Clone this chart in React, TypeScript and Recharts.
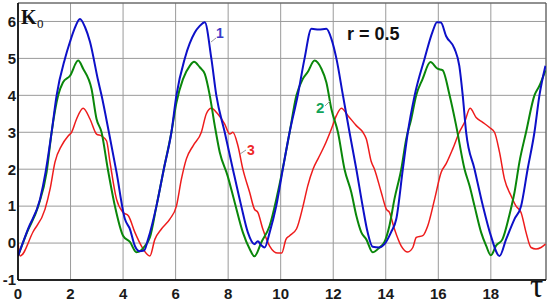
import React from "react"
import { LineChart, Line, XAxis, YAxis, CartesianGrid, ReferenceArea } from "recharts"

const X_TICKS = [0, 2, 4, 6, 8, 10, 12, 14, 16, 18]
const Y_TICKS = [-1, 0, 1, 2, 3, 4, 5, 6]

// curve 1 (blue)
const blueX = [0, 0.38, 0.84, 1.05, 1.28, 1.47, 1.79, 1.98, 2.15, 2.36, 2.55, 2.74, 3.05, 3.18, 3.46, 3.75, 4.07, 4.26, 4.45, 4.62, 4.8, 4.95, 5.27, 5.55, 5.84, 6.03, 6.35, 6.73, 6.92, 7.11, 7.36, 7.55, 7.87, 8.18, 8.5, 8.75, 9.0, 9.13, 9.25, 9.39, 9.58, 9.83, 10.08, 10.34, 10.65, 10.91, 11.17, 11.45, 11.74, 11.93, 12.12, 12.37, 12.62, 12.88, 13.12, 13.31, 13.5, 13.75, 13.95, 14.2, 14.4, 14.65, 14.84, 15.1, 15.48, 15.78, 15.95, 16.1, 16.3, 16.62, 16.8, 16.93, 17.06, 17.38, 17.7, 18.0, 18.33, 18.58, 18.9, 19.15, 19.4, 19.66, 19.85, 20.08]
const blueY = [-0.35, 0.38, 1.19, 1.92, 3.0, 4.0, 5.0, 5.45, 5.8, 6.07, 5.85, 5.45, 4.4, 4.0, 3.0, 1.92, 0.65, 0.38, -0.08, -0.22, -0.2, 0.1, 1.0, 2.0, 3.0, 4.0, 5.0, 5.7, 5.88, 5.98, 5.0, 4.0, 3.0, 2.0, 1.0, 0.29, -0.03, 0.05, -0.05, -0.12, 0.29, 1.0, 2.0, 3.0, 4.0, 5.0, 5.8, 5.78, 5.8, 5.53, 5.0, 4.0, 3.0, 2.0, 1.0, 0.29, -0.1, -0.12, -0.03, 0.29, 0.65, 2.0, 3.0, 4.0, 5.0, 5.72, 5.98, 5.97, 5.6, 5.26, 4.8, 4.0, 3.0, 2.0, 1.0, 0.2, -0.35, 0.1, 0.65, 1.0, 2.0, 3.0, 4.0, 4.8]

// curve 2 (green)
const greenX = [0, 0.35, 0.77, 1.09, 1.28, 1.53, 1.71, 1.98, 2.29, 2.48, 2.8, 2.99, 3.18, 3.42, 3.69, 4.0, 4.26, 4.51, 4.83, 5.02, 5.27, 5.55, 5.84, 6.03, 6.28, 6.54, 6.7, 6.92, 7.11, 7.3, 7.49, 7.68, 7.98, 8.25, 8.56, 8.82, 9.0, 9.27, 9.58, 9.89, 10.15, 10.34, 10.6, 10.84, 11.03, 11.29, 11.55, 11.74, 11.93, 12.18, 12.43, 12.69, 12.88, 13.07, 13.26, 13.5, 13.76, 13.95, 14.14, 14.33, 14.59, 14.78, 14.97, 15.16, 15.4, 15.7, 15.97, 16.16, 16.43, 16.68, 17.0, 17.19, 17.38, 17.63, 17.82, 18.0, 18.2, 18.44, 18.7, 18.9, 19.09, 19.34, 19.66, 19.85, 20.08]
const greenY = [-0.35, 0.3, 1.0, 1.92, 3.0, 4.0, 4.35, 4.53, 4.94, 4.72, 4.17, 3.36, 3.0, 2.0, 1.0, 0.2, 0.03, -0.25, -0.08, 0.15, 1.0, 2.0, 3.0, 3.8, 4.44, 4.8, 4.91, 4.76, 4.58, 4.0, 3.18, 2.46, 1.82, 1.1, 0.29, -0.16, -0.36, 0.03, 0.47, 1.37, 2.28, 3.0, 4.0, 4.44, 4.63, 4.94, 4.72, 4.35, 3.63, 3.0, 2.0, 1.37, 0.74, 0.29, 0.1, -0.25, -0.12, 0.03, 0.47, 1.19, 2.0, 2.82, 3.36, 4.0, 4.44, 4.9, 4.72, 4.68, 4.0, 3.18, 2.0, 1.55, 1.0, 0.29, -0.07, -0.33, -0.07, 0.1, 0.74, 1.37, 2.2, 3.0, 4.0, 4.26, 4.68]

// curve 3 (red)
const redX = [0, 0.08, 0.57, 1.03, 1.22, 1.41, 1.66, 1.91, 2.04, 2.23, 2.48, 2.74, 2.99, 3.18, 3.37, 3.5, 3.75, 4.0, 4.2, 4.45, 4.7, 5.02, 5.21, 5.46, 5.78, 6.03, 6.22, 6.41, 6.67, 6.98, 7.17, 7.36, 7.6, 7.87, 8.06, 8.18, 8.37, 8.56, 8.82, 9.0, 9.13, 9.32, 9.58, 9.89, 10.04, 10.2, 10.34, 10.6, 10.85, 11.03, 11.23, 11.42, 11.67, 11.93, 12.12, 12.31, 12.56, 12.88, 13.13, 13.26, 13.45, 13.57, 13.83, 14.02, 14.14, 14.33, 14.59, 14.84, 15.03, 15.16, 15.41, 15.6, 15.86, 16.11, 16.3, 16.55, 16.8, 17.0, 17.21, 17.44, 17.69, 17.95, 18.14, 18.33, 18.52, 18.77, 18.96, 19.15, 19.34, 19.53, 19.72, 19.91, 20.08]
const redY = [0, -0.35, 0.3, 0.92, 1.46, 2.2, 2.64, 2.9, 3.0, 3.36, 3.65, 3.36, 2.95, 2.9, 2.77, 2.2, 1.19, 0.83, 0.74, 0.29, -0.08, -0.35, 0.1, 0.38, 0.65, 1.0, 1.73, 2.28, 2.64, 3.0, 3.5, 3.65, 3.5, 3.22, 2.95, 3.0, 2.64, 2.0, 1.37, 0.92, 0.83, 0.38, -0.08, -0.27, -0.27, 0.1, 0.2, 0.38, 1.0, 1.55, 2.0, 2.28, 2.64, 3.09, 3.45, 3.65, 3.45, 3.18, 3.0, 2.82, 2.2, 2.0, 1.37, 0.92, 0.83, 0.38, -0.08, -0.24, -0.12, 0.15, 0.2, 0.47, 1.19, 1.92, 2.15, 2.55, 3.0, 3.27, 3.65, 3.4, 3.27, 3.13, 3.0, 2.46, 1.73, 1.28, 1.0, 0.83, 0.29, -0.12, -0.16, -0.12, -0.03]

const toPoints = (xs: number[], ys: number[]) => xs.map((x, i) => ({ x, y: ys[i] }))

const blueData = toPoints(blueX, blueY)
const greenData = toPoints(greenX, greenY)
const redData = toPoints(redX, redY)

const tickStyle = { fontFamily: "Liberation Sans, Arial, sans-serif", fontWeight: 700, fontSize: 15, fill: "#1a1a1a" }

const label = (left: number, top: number, size: number, color: string, extra: React.CSSProperties = {}): React.CSSProperties => ({
  position: "absolute",
  left,
  top,
  fontSize: size,
  lineHeight: 1,
  color,
  fontFamily: "Liberation Sans, Arial, sans-serif",
  fontWeight: 700,
  whiteSpace: "nowrap",
  ...extra,
})

export default function App() {
  return (
    <div style={{ position: "absolute", left: 0, top: 0, width: 550, height: 303, background: "#fff" }}>
      <LineChart width={550} height={303} margin={{ top: 3, right: 4, bottom: 0, left: 0 }}>
        <CartesianGrid stroke="#9a9a9a" strokeWidth={1} />
        <XAxis
          dataKey="x"
          type="number"
          domain={[0, 20.1]}
          ticks={X_TICKS}
          height={23}
          tickSize={0}
          tickMargin={8}
          tick={tickStyle}
          axisLine={{ stroke: "#000", strokeWidth: 1.5 }}
          allowDataOverflow
        />
        <YAxis
          type="number"
          domain={[-1, 6.5]}
          ticks={Y_TICKS}
          width={18}
          tickSize={0}
          tickMargin={2}
          tick={tickStyle}
          axisLine={{ stroke: "#000", strokeWidth: 1.5 }}
          allowDataOverflow
        />
        <ReferenceArea x1={0} x2={20.1} y1={-1} y2={6.5} fill="none" stroke="#555" strokeWidth={1} />
        <Line data={redData} dataKey="y" type="monotone" stroke="#ee1c1c" strokeWidth={1.5} dot={false} isAnimationActive={false} />
        <Line data={greenData} dataKey="y" type="monotone" stroke="#0a870a" strokeWidth={2} dot={false} isAnimationActive={false} />
        <Line data={blueData} dataKey="y" type="monotone" stroke="#0d10c8" strokeWidth={2} dot={false} isAnimationActive={false} />
      </LineChart>

      {/* annotations */}
      <svg width={550} height={303} style={{ position: "absolute", left: 0, top: 0, pointerEvents: "none" }}>
        <line x1={216} y1={38} x2={211} y2={42} stroke="#999" strokeWidth={1} />
        <line x1={325} y1={106} x2={330} y2={101} stroke="#999" strokeWidth={1} />
        <line x1={246} y1={150} x2={240} y2={154} stroke="#999" strokeWidth={1} />
      </svg>
      <div style={label(21, 7, 20, "#111", { fontFamily: "Liberation Serif, Times New Roman, serif" })}>Κ</div>
      <div style={label(37, 17, 13, "#111", { fontFamily: "Liberation Serif, Times New Roman, serif", fontWeight: 400 })}>0</div>
      <div style={label(347, 25, 18, "#111")}>r = 0.5</div>
      <div style={label(216, 26, 14, "#3b3bc8")}>1</div>
      <div style={label(316, 100, 15, "#11a35a")}>2</div>
      <div style={label(247, 143, 14, "#ee2a2a")}>3</div>
      <div style={label(530, 270, 33, "#111", { fontFamily: "Liberation Serif, Times New Roman, serif", fontWeight: 400 })}>τ</div>
    </div>
  )
}
